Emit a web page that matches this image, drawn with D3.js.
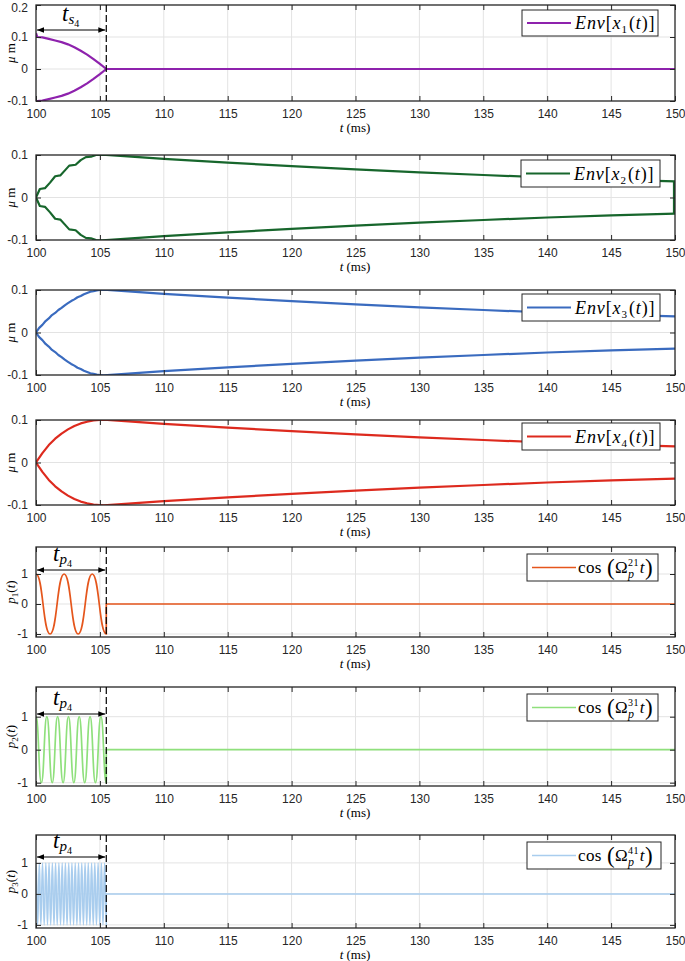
<!DOCTYPE html>
<html><head><meta charset="utf-8">
<script src="https://cdn.jsdelivr.net/npm/d3@7"></script>
<style>
html,body{margin:0;padding:0;background:#fff;}
svg{display:block;}
</style></head>
<body>
<svg id="chart" width="685" height="961"></svg>
<script>
// ---------------- DATA ----------------
const tDomain = [100, 150];
const xTicks = [100, 105, 110, 115, 120, 125, 130, 135, 140, 145, 150];
const tSwitch = 105.5;           // end of the pulse / settling interval (dashed line)
const yTicksEnv1 = [-0.1, 0, 0.1, 0.2];
const yTicksEnv = [-0.1, 0, 0.1];
const yTicksP = [-1, 0, 1];

// envelopes (upper half; lower half is the mirror)
const env1 = [[100,0.112],[100.1,0.1],[100.5,0.099],[101,0.094],[101.5,0.089],[102,0.084],[102.5,0.077],
  [103,0.068],[103.5,0.057],[104,0.045],[104.5,0.031],[105,0.016],[105.5,0],[150,0]];
const env2 = [[100,0],[100.3,0.02],[100.7,0.022],[101.1,0.035],[101.5,0.05],[101.9,0.052],[102.3,0.065],
  [102.6,0.075],[103.1,0.077],[103.5,0.088],[103.9,0.095],[104.3,0.096],[104.7,0.1],[105.2,0.101],
  [110,0.091],[115,0.082],[120,0.074],[125,0.066],[130,0.059],[135,0.053],[140,0.047],[145,0.042],[150,0.038]];
const env3 = [[100,0],[100.25,0.011],[100.5,0.018],[100.75,0.027],[101,0.033],[101.25,0.041],[101.5,0.046],
  [101.75,0.053],[102,0.058],[102.25,0.064],[102.5,0.069],[102.75,0.074],[103,0.078],[103.25,0.083],
  [103.5,0.086],[103.75,0.09],[104,0.093],[104.25,0.096],[104.5,0.097],[104.75,0.099],[105,0.1],[105.3,0.101],
  [110,0.091],[115,0.082],[120,0.074],[125,0.066],[130,0.059],[135,0.053],[140,0.047],[145,0.042],[150,0.038]];
const env4 = [[100,0],[100.5,0.022],[101,0.041],[101.5,0.056],[102,0.068],[102.5,0.078],[103,0.086],
  [103.5,0.092],[104,0.096],[104.5,0.099],[105,0.1],[105.3,0.101],
  [110,0.091],[115,0.082],[120,0.074],[125,0.066],[130,0.059],[135,0.053],[140,0.047],[145,0.042],[150,0.038]];

const p1 = [[100,1],[101.1,-1],[102.2,1],[103.3,-1],[104.4,1],[105.5,-1],[105.5,0],[150,0]];
const p2 = [[100,1],[100.42,-1],[100.85,1],[101.27,-1],[101.69,1],[102.12,-1],[102.54,1],[102.96,-1],
  [103.38,1],[103.81,-1],[104.23,1],[104.65,-1],[105.08,1],[105.5,-1],[105.5,0],[150,0]];
const p3 = [[100.00,1],[100.13,-1],[100.26,1],[100.38,-1],[100.51,1],[100.64,-1],[100.77,1],[100.90,-1],
  [101.02,1],[101.15,-1],[101.28,1],[101.41,-1],[101.53,1],[101.66,-1],[101.79,1],[101.92,-1],
  [102.05,1],[102.17,-1],[102.30,1],[102.43,-1],[102.56,1],[102.69,-1],[102.81,1],[102.94,-1],
  [103.07,1],[103.20,-1],[103.33,1],[103.45,-1],[103.58,1],[103.71,-1],[103.84,1],[103.97,-1],
  [104.09,1],[104.22,-1],[104.35,1],[104.48,-1],[104.60,1],[104.73,-1],[104.86,1],[104.99,-1],
  [105.12,1],[105.24,-1],[105.37,1],[105.50,-1],[105.5,0],[150,0]];

// ---------------- LAYOUT ----------------
const X0 = 36, X1 = 675;
const SERIF = "'Liberation Serif','DejaVu Serif',serif";
const SANS = "'Liberation Sans',Arial,Helvetica,sans-serif";
const AX = "#262626";

const svg = d3.select("#chart");
const defs = svg.append("defs");
["start","end"].forEach(k=>{
  defs.append("marker").attr("id","arr-"+k).attr("viewBox","0 0 10 10")
    .attr("refX", k==="end"?10:0).attr("refY",5).attr("markerWidth",10).attr("markerHeight",7)
    .attr("markerUnits","userSpaceOnUse").attr("orient","auto")
    .append("path").attr("d", k==="end" ? "M0,1 L10,5 L0,9 Z" : "M10,1 L0,5 L10,9 Z").attr("fill","#000");
});

const x = d3.scaleLinear().domain(tDomain).range([X0, X1]);

// math text helper: pieces laid out left to right
function mathText(g, x0, y0, pieces, ls) {
  let cx = x0, lastStart = x0;
  pieces.forEach(p => {
    if (p.gap) { cx += p.gap; return; }
    const px = p.stack ? lastStart : cx;
    const t = g.append("text").attr("x", px).attr("y", y0 + (p.dy || 0))
      .style("font-family", SERIF).style("font-size", p.size + "px")
      .style("letter-spacing", (ls || 0) + "px")
      .style("font-style", p.it ? "italic" : "normal").attr("fill", "#000").text(p.t);
    const w = t.node().getComputedTextLength();
    if (p.stack) { cx = Math.max(cx, px + w); }
    else { lastStart = cx; cx += w; }
  });
  return cx;
}

const panels = [
  {top:5, bottom:101, ydom:[-0.1,0.2], yt:yTicksEnv1, data:env1, mirror:true, color:"#8e22ad", lw:2.2,
   ylab:"mu", legend:{x:522,y:10,w:136,h:26}, leg:"env", idx:"1", dashed:true, arrowY:30, arrowLab:"s"},
  {top:155, bottom:240, ydom:[-0.1,0.1], yt:yTicksEnv, data:env2, mirror:true, color:"#17662c", lw:2.2,
   ylab:"mu", legend:{x:521,y:160,w:139,h:27}, leg:"env", idx:"2", closeRight:true},
  {top:290, bottom:375, ydom:[-0.1,0.1], yt:yTicksEnv, data:env3, mirror:true, color:"#3a6bbf", lw:2.2,
   ylab:"mu", legend:{x:522,y:294,w:138,h:27}, leg:"env", idx:"3"},
  {top:420, bottom:505, ydom:[-0.1,0.1], yt:yTicksEnv, data:env4, mirror:true, color:"#dd2a1e", lw:2.2,
   ylab:"mu", legend:{x:522,y:423,w:138,h:27}, leg:"env", idx:"4"},
  {top:547, bottom:637, ydom:[-1.1,1.9], yt:yTicksP, data:p1, color:"#e5561c", lw:1.7,
   ylab:"p", pidx:"1", legend:{x:527,y:554,w:131,h:27}, leg:"cos", sup:"21", dashed:true, arrowY:570, arrowLab:"p"},
  {top:687, bottom:786, ydom:[-1.1,1.9], yt:yTicksP, data:p2, color:"#8fe07c", lw:1.7,
   ylab:"p", pidx:"2", legend:{x:527,y:694,w:131,h:27}, leg:"cos", sup:"31", dashed:true, arrowY:714, arrowLab:"p"},
  {top:835, bottom:928, ydom:[-1.1,1.9], yt:yTicksP, data:p3, color:"#a9cdee", lw:1.5,
   ylab:"p", pidx:"3", legend:{x:527,y:842,w:134,h:27}, leg:"cos", sup:"41", dashed:true, arrowY:857, arrowLab:"p"}
];

panels.forEach(P => {
  const g = svg.append("g");
  const y = d3.scaleLinear().domain(P.ydom).range([P.bottom, P.top]);
  const fmt = d => String(d);

  // grid
  g.append("g").selectAll("line").data(xTicks.slice(1,-1)).join("line")
    .attr("x1", d=>x(d)).attr("x2", d=>x(d)).attr("y1", P.top).attr("y2", P.bottom)
    .attr("stroke", "#e3e3e3").attr("stroke-width", 1);
  g.append("g").selectAll("line").data(P.yt.filter(v => y(v) > P.top+1 && y(v) < P.bottom-1)).join("line")
    .attr("x1", X0).attr("x2", X1).attr("y1", d=>y(d)).attr("y2", d=>y(d))
    .attr("stroke", "#e3e3e3").attr("stroke-width", 1);

  // data
  const clipId = "clip" + P.top;
  defs.append("clipPath").attr("id", clipId).append("rect")
    .attr("x", X0).attr("y", P.top).attr("width", X1 - X0).attr("height", P.bottom - P.top);
  const dg = g.append("g").attr("clip-path", `url(#${clipId})`);
  if (P.mirror) {
    const line = d3.line().x(d=>x(d[0])).y(d=>y(d[1]));
    const lower = P.data.map(d => [d[0], -d[1]]);
    [P.data, lower].forEach(arr => dg.append("path").attr("d", line(arr)).attr("fill","none")
      .attr("stroke", P.color).attr("stroke-width", P.lw).attr("stroke-linejoin","round"));
    if (P.closeRight) {
      const last = P.data[P.data.length-1];
      dg.append("line").attr("x1", x(last[0])-1).attr("x2", x(last[0])-1)
        .attr("y1", y(last[1])).attr("y2", y(-last[1])).attr("stroke", P.color).attr("stroke-width", P.lw);
    }
  } else {
    const line = d3.line().x(d=>x(d[0])).y(d=>y(d[1])).curve(d3.curveBumpX);
    dg.append("path").attr("d", line(P.data)).attr("fill","none")
      .attr("stroke", P.color).attr("stroke-width", P.lw);
  }

  // axes
  const bottomAx = d3.axisBottom(x).tickValues(xTicks).tickSize(-5).tickSizeOuter(0).tickPadding(8).tickFormat(fmt);
  const topAx = d3.axisTop(x).tickValues(xTicks).tickSize(-5).tickSizeOuter(0).tickFormat("");
  const leftAx = d3.axisLeft(y).tickValues(P.yt).tickSize(-5).tickSizeOuter(0).tickPadding(8).tickFormat(fmt);
  const rightAx = d3.axisRight(y).tickValues(P.yt).tickSize(-5).tickSizeOuter(0).tickFormat("");
  const style = sel => { sel.select(".domain").remove();
    sel.selectAll("line").attr("stroke", AX);
    sel.selectAll("text").attr("fill", AX).style("font-family", SANS).style("font-size","12px"); };
  g.append("g").attr("transform", `translate(0,${P.bottom})`).call(bottomAx).call(style);
  g.append("g").attr("transform", `translate(0,${P.top})`).call(topAx).call(style);
  const la = g.append("g").attr("transform", `translate(${X0},0)`).call(leftAx).call(style);
  // keep the top label inside the picture
  la.selectAll(".tick text").filter(d => y(d) < 8).attr("dy", "0.5em");
  g.append("g").attr("transform", `translate(${X1},0)`).call(rightAx).call(style);
  g.append("rect").attr("x", X0).attr("y", P.top).attr("width", X1-X0).attr("height", P.bottom-P.top)
    .attr("fill","none").attr("stroke", AX).attr("stroke-width", 1.3);

  // x label
  const xl = g.append("text").attr("x", 355).attr("y", P.bottom + 31).attr("text-anchor","middle")
    .style("font-family", SERIF).style("font-size","13px").attr("fill","#000");
  xl.append("tspan").style("font-style","italic").text("t");
  xl.append("tspan").text(" (ms)");

  // y label
  const cy = (P.top + P.bottom) / 2;
  const yl = g.append("text").attr("transform", `translate(15,${cy}) rotate(-90)`).attr("text-anchor","middle")
    .style("font-family", SERIF).style("font-size","13px").attr("fill","#000");
  if (P.ylab === "mu") {
    yl.append("tspan").style("font-style","italic").text("μ");
    yl.append("tspan").text(" m");
  } else {
    yl.append("tspan").style("font-style","italic").text("p");
    yl.append("tspan").attr("dy", 3).style("font-size","9px").text(P.pidx);
    yl.append("tspan").attr("dy", -3).text("(");
    yl.append("tspan").style("font-style","italic").text("t");
    yl.append("tspan").text(")");
  }

  // dashed switch line and arrow
  if (P.dashed) {
    g.append("line").attr("x1", x(tSwitch)).attr("x2", x(tSwitch)).attr("y1", P.top).attr("y2", P.bottom)
      .attr("stroke","#000").attr("stroke-width",1.2).attr("stroke-dasharray","7,3");
  }
  if (P.arrowY) {
    g.append("line").attr("x1", x(tDomain[0])+1).attr("x2", x(tSwitch)-1).attr("y1", P.arrowY).attr("y2", P.arrowY)
      .attr("stroke","#000").attr("stroke-width",1)
      .attr("marker-start","url(#arr-start)").attr("marker-end","url(#arr-end)");
    const lx = P.arrowLab === "s" ? 62 : 53;
    mathText(g, lx, P.arrowY - 9, [
      {t:"t", it:true, size:23},
      {t:P.arrowLab, it:true, size:15, dy:3},
      {t:"4", size:10, dy:6}
    ]);
  }

  // legend
  const L = P.legend;
  g.append("rect").attr("x", L.x).attr("y", L.y).attr("width", L.w).attr("height", L.h)
    .attr("fill","#fff").attr("stroke", AX).attr("stroke-width", 1);
  const ly = L.y + L.h/2;
  g.append("line").attr("x1", L.x+5).attr("x2", L.x+49).attr("y1", ly).attr("y2", ly)
    .attr("stroke", P.color).attr("stroke-width", P.lw);
  if (P.leg === "env") {
    mathText(g, L.x+53, ly+6, [
      {t:"Env", it:true, size:18},
      {t:"[", size:18},
      {t:"x", it:true, size:18},
      {t:P.idx, size:11, dy:4},
      {gap:1},
      {t:"(", size:18},
      {t:"t", it:true, size:18},
      {t:")]", size:18}
    ], 0.9);
  } else {
    mathText(g, L.x+51, ly+5, [
      {t:"cos", size:17},
      {gap:5},
      {t:"(", size:23, dy:2},
      {t:"Ω", size:17},
      {t:P.sup, size:10, dy:-7},
      {t:"p", it:true, size:12, dy:5, stack:true},
      {gap:1},
      {t:"t", it:true, size:17},
      {t:")", size:23, dy:2}
    ], 0.4);
  }
});
</script>
</body></html>
